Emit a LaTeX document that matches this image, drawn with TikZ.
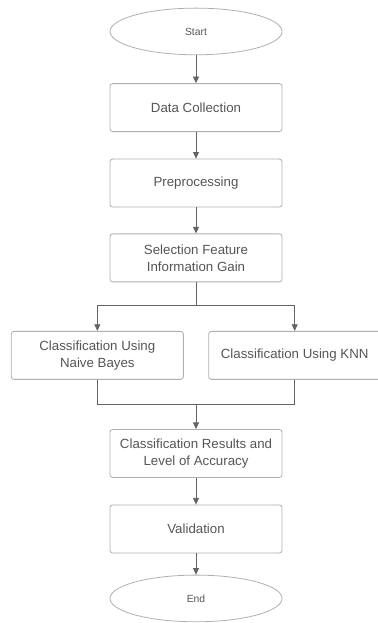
\documentclass[tikz,border=0pt]{standalone}
\usepackage{fontspec}
\setmainfont{Liberation Sans}
\usetikzlibrary{shapes.geometric, arrows.meta, positioning, calc}
\definecolor{textgray}{RGB}{85, 85, 85}
\definecolor{edgegray}{RGB}{175, 175, 175}
\definecolor{linegray}{RGB}{100, 100, 100}

\begin{document}
\begin{tikzpicture}[
            box/.style={draw=edgegray, line width=0.6pt, rounded corners=2pt, minimum width=129bp, minimum height=36bp, inner sep=0pt, align=center, text=textgray, font=\fontsize{10}{12.75}\selectfont},
            term/.style={ellipse, draw=edgegray, line width=0.6pt, minimum width=129bp, minimum height=35bp, inner sep=0pt, text=textgray, font=\fontsize{7.8}{9}\selectfont},
            line/.style={linegray, line width=0.6pt},
            arrow/.style={line, -{Triangle[length=5pt, width=4.5pt]}}
        ]
            \useasboundingbox (-147bp,23.6bp) rectangle (135.75bp,-443.6bp);

            \node[term] (start) {Start};
            \node[box, below=21bp of start] (collect) {Data Collection};
            \node[box, below=20bp of collect] (prep) {Preprocessing};
            \node[box, below=19.5bp of prep] (select) {Selection Feature\\Information Gain};
            \node[box, below=36.5bp of select, xshift=-74bp] (bayes) {Classification Using\\Naive Bayes};
            \node[box, below=36.5bp of select, xshift=74bp] (knn) {Classification Using KNN};
            \coordinate (fork) at ($(select.south)+(0,-17.5bp)$);
            \coordinate (join) at ($(bayes.south -| select)+(0,-18.5bp)$);
            \node[box, below=18.5bp of join] (result) {Classification Results and\\Level of Accuracy};
            \node[box, below=20bp of result] (valid) {Validation};
            \node[term, below=16bp of valid] (end) {End};

            \draw[arrow] (start) -- (collect);
            \draw[arrow] (collect) -- (prep);
            \draw[arrow] (prep) -- (select);
            \draw[line] (select) -- (fork);
            \draw[arrow] (fork) -| (bayes);
            \draw[arrow] (fork) -| (knn);
            \draw[line] (bayes) |- (join);
            \draw[line] (knn) |- (join);
            \draw[arrow] (join) -- (result);
            \draw[arrow] (result) -- (valid);
            \draw[arrow] (valid) -- (end);
        \end{tikzpicture}
\end{document}
